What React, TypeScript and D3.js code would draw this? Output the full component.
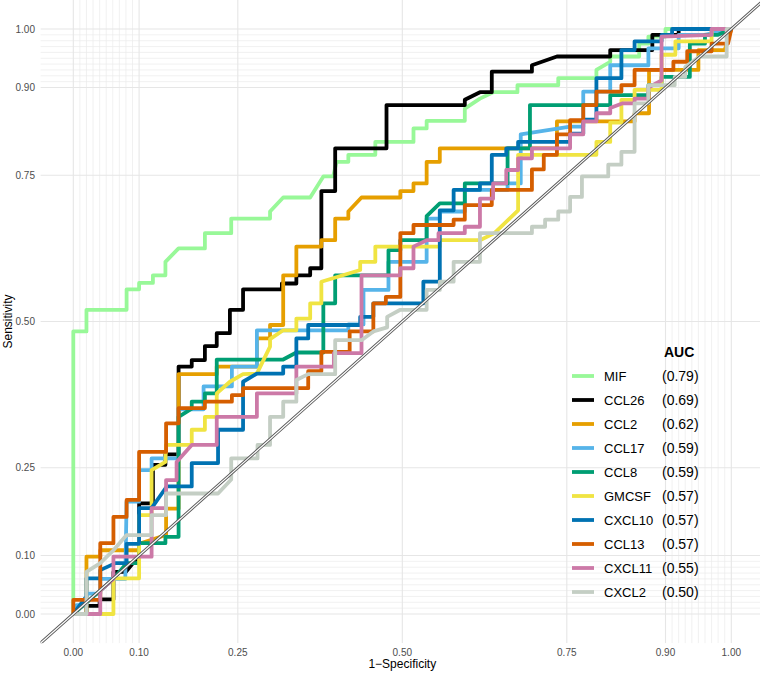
import React from "react";
import * as d3 from "d3";

type Pt = [number, number];

const markers = ["MIF", "CCL26", "CCL2", "CCL17", "CCL8", "GMCSF", "CXCL10", "CCL13", "CXCL11", "CXCL2"];
const aucLabels = ["(0.79)", "(0.69)", "(0.62)", "(0.59)", "(0.59)", "(0.57)", "(0.57)", "(0.57)", "(0.55)", "(0.50)"];
const colors = ["#98F898", "#000000", "#E69F00", "#56B4E9", "#009E73", "#F0E442", "#0072B2", "#D55E00", "#CC79A7", "#C4CEC4"];

const MIF: Pt[] = [[0,0],[0,0.483],[0.02,0.483],[0.02,0.52],[0.081,0.52],[0.081,0.555],[0.1,0.555],[0.1,0.566],[0.121,0.566],[0.121,0.579],[0.14,0.579],[0.14,0.602],[0.16,0.625],[0.2,0.625],[0.2,0.651],[0.24,0.651],[0.24,0.676],[0.299,0.676],[0.299,0.688],[0.319,0.712],[0.36,0.712],[0.38,0.748],[0.395,0.748],[0.4,0.773],[0.418,0.773],[0.418,0.785],[0.459,0.785],[0.459,0.807],[0.517,0.807],[0.517,0.83],[0.537,0.83],[0.537,0.843],[0.595,0.843],[0.595,0.864],[0.618,0.881],[0.638,0.892],[0.675,0.892],[0.675,0.904],[0.737,0.904],[0.737,0.916],[0.795,0.916],[0.795,0.93],[0.816,0.944],[0.816,0.953],[0.86,0.953],[0.86,0.975],[0.874,0.975],[0.874,0.987],[0.9,0.987],[0.9,1],[1,1]];
const CCL26: Pt[] = [[0,0],[0.02,0],[0.02,0.014],[0.04,0.014],[0.04,0.025],[0.061,0.025],[0.061,0.072],[0.08,0.072],[0.1,0.1],[0.1,0.189],[0.121,0.189],[0.121,0.255],[0.14,0.255],[0.14,0.273],[0.16,0.273],[0.16,0.423],[0.18,0.423],[0.18,0.434],[0.2,0.434],[0.2,0.458],[0.218,0.458],[0.218,0.48],[0.238,0.48],[0.238,0.52],[0.258,0.52],[0.258,0.555],[0.317,0.555],[0.317,0.565],[0.339,0.565],[0.339,0.579],[0.36,0.579],[0.36,0.591],[0.377,0.591],[0.377,0.723],[0.398,0.723],[0.398,0.796],[0.476,0.796],[0.476,0.87],[0.595,0.87],[0.595,0.879],[0.618,0.892],[0.636,0.892],[0.636,0.927],[0.697,0.927],[0.697,0.938],[0.735,0.953],[0.816,0.953],[0.816,0.964],[0.88,0.964],[0.88,0.99],[0.92,0.99],[0.92,1],[1,1]];
const CCL2: Pt[] = [[0,0],[0.02,0],[0.02,0.098],[0.041,0.098],[0.041,0.109],[0.1,0.109],[0.1,0.12],[0.141,0.135],[0.141,0.18],[0.16,0.18],[0.16,0.41],[0.218,0.41],[0.218,0.423],[0.279,0.423],[0.279,0.471],[0.299,0.471],[0.299,0.494],[0.319,0.494],[0.319,0.579],[0.339,0.579],[0.339,0.628],[0.377,0.628],[0.377,0.639],[0.398,0.639],[0.398,0.676],[0.418,0.676],[0.418,0.688],[0.438,0.712],[0.497,0.712],[0.497,0.723],[0.517,0.723],[0.517,0.736],[0.537,0.736],[0.537,0.773],[0.557,0.773],[0.557,0.796],[0.735,0.796],[0.735,0.842],[0.853,0.842],[0.853,0.856],[0.875,0.856],[0.875,0.93],[0.95,0.93],[0.95,0.964],[0.99,0.964],[1,1]];
const CCL17: Pt[] = [[0,0],[0.005,0.015],[0.02,0.015],[0.02,0.035],[0.041,0.035],[0.041,0.06],[0.079,0.06],[0.081,0.192],[0.1,0.192],[0.1,0.246],[0.119,0.246],[0.119,0.266],[0.16,0.266],[0.16,0.35],[0.198,0.35],[0.198,0.389],[0.241,0.389],[0.241,0.423],[0.279,0.423],[0.279,0.485],[0.418,0.485],[0.418,0.495],[0.441,0.495],[0.441,0.554],[0.479,0.554],[0.479,0.602],[0.537,0.602],[0.537,0.676],[0.557,0.676],[0.557,0.688],[0.595,0.688],[0.595,0.725],[0.66,0.725],[0.66,0.736],[0.68,0.736],[0.68,0.82],[0.755,0.833],[0.775,0.833],[0.775,0.893],[0.816,0.893],[0.816,0.938],[0.874,0.938],[0.874,0.967],[0.92,0.967],[0.92,0.99],[0.96,0.99],[1,1]];
const CCL8: Pt[] = [[0,0],[0.041,0.04],[0.061,0.06],[0.081,0.087],[0.1,0.087],[0.1,0.121],[0.14,0.121],[0.14,0.132],[0.16,0.132],[0.16,0.337],[0.18,0.351],[0.18,0.363],[0.2,0.363],[0.2,0.377],[0.218,0.377],[0.218,0.435],[0.319,0.435],[0.339,0.447],[0.38,0.447],[0.38,0.531],[0.398,0.531],[0.398,0.579],[0.479,0.579],[0.479,0.622],[0.497,0.622],[0.497,0.639],[0.537,0.639],[0.537,0.68],[0.557,0.702],[0.595,0.702],[0.595,0.736],[0.66,0.736],[0.66,0.796],[0.694,0.796],[0.694,0.87],[0.816,0.87],[0.816,0.887],[0.874,0.887],[0.874,0.904],[0.894,0.904],[0.894,0.918],[0.937,0.918],[0.937,0.975],[0.96,0.975],[0.96,0.99],[0.98,0.99],[1,1]];
const GMCSF: Pt[] = [[0,0],[0.061,0],[0.061,0.061],[0.1,0.061],[0.1,0.169],[0.119,0.169],[0.119,0.246],[0.14,0.26],[0.141,0.289],[0.18,0.289],[0.18,0.315],[0.2,0.315],[0.2,0.337],[0.218,0.337],[0.218,0.377],[0.238,0.397],[0.258,0.41],[0.279,0.411],[0.299,0.457],[0.299,0.47],[0.319,0.485],[0.339,0.485],[0.339,0.505],[0.36,0.505],[0.36,0.531],[0.377,0.531],[0.377,0.568],[0.436,0.588],[0.436,0.602],[0.459,0.602],[0.459,0.628],[0.557,0.628],[0.557,0.639],[0.618,0.639],[0.64,0.651],[0.676,0.69],[0.676,0.785],[0.795,0.785],[0.795,0.807],[0.816,0.807],[0.816,0.84],[0.833,0.84],[0.833,0.879],[0.853,0.879],[0.853,0.896],[0.894,0.896],[0.894,0.956],[0.915,0.956],[0.915,0.979],[0.97,0.979],[0.97,1],[1,1]];
const CXCL10: Pt[] = [[0,0],[0.02,0.03],[0.02,0.061],[0.041,0.061],[0.041,0.075],[0.064,0.087],[0.081,0.087],[0.081,0.12],[0.1,0.12],[0.1,0.181],[0.119,0.181],[0.142,0.218],[0.18,0.218],[0.18,0.258],[0.22,0.258],[0.22,0.315],[0.258,0.315],[0.258,0.397],[0.279,0.411],[0.319,0.411],[0.319,0.423],[0.339,0.423],[0.339,0.471],[0.357,0.471],[0.357,0.494],[0.436,0.494],[0.436,0.508],[0.456,0.508],[0.456,0.531],[0.532,0.531],[0.532,0.568],[0.557,0.568],[0.557,0.69],[0.578,0.69],[0.578,0.725],[0.618,0.725],[0.618,0.736],[0.636,0.736],[0.636,0.785],[0.658,0.785],[0.658,0.796],[0.676,0.796],[0.676,0.807],[0.755,0.807],[0.755,0.821],[0.775,0.821],[0.775,0.845],[0.795,0.845],[0.795,0.916],[0.833,0.916],[0.833,0.964],[0.853,0.964],[0.853,0.979],[0.894,0.979],[0.894,0.99],[0.91,0.99],[0.91,1],[1,1]];
const CCL13: Pt[] = [[0,0],[0,0.024],[0.041,0.024],[0.041,0.121],[0.061,0.121],[0.061,0.166],[0.081,0.166],[0.081,0.195],[0.1,0.195],[0.1,0.277],[0.141,0.277],[0.141,0.326],[0.16,0.326],[0.16,0.352],[0.2,0.352],[0.2,0.363],[0.241,0.363],[0.241,0.374],[0.258,0.374],[0.258,0.386],[0.357,0.386],[0.357,0.415],[0.377,0.415],[0.377,0.448],[0.42,0.448],[0.42,0.483],[0.456,0.483],[0.456,0.531],[0.475,0.531],[0.475,0.542],[0.497,0.542],[0.497,0.651],[0.517,0.651],[0.517,0.665],[0.578,0.665],[0.578,0.674],[0.595,0.674],[0.595,0.699],[0.636,0.699],[0.636,0.725],[0.697,0.725],[0.697,0.76],[0.715,0.76],[0.715,0.785],[0.735,0.785],[0.735,0.82],[0.755,0.82],[0.755,0.844],[0.775,0.844],[0.775,0.87],[0.795,0.87],[0.795,0.893],[0.833,0.893],[0.833,0.904],[0.853,0.904],[0.853,0.93],[0.912,0.93],[0.912,0.944],[0.933,0.944],[0.933,0.962],[0.97,0.962],[0.97,0.975],[0.995,0.975],[1,1]];
const CXCL11: Pt[] = [[0,0],[0.041,0],[0.041,0.04],[0.061,0.06],[0.061,0.098],[0.119,0.098],[0.119,0.181],[0.141,0.181],[0.141,0.229],[0.157,0.229],[0.157,0.26],[0.18,0.289],[0.218,0.289],[0.218,0.337],[0.279,0.337],[0.279,0.377],[0.339,0.377],[0.339,0.423],[0.396,0.423],[0.396,0.446],[0.438,0.446],[0.438,0.579],[0.497,0.579],[0.497,0.591],[0.517,0.591],[0.517,0.628],[0.537,0.639],[0.555,0.639],[0.555,0.651],[0.595,0.651],[0.595,0.662],[0.618,0.662],[0.618,0.71],[0.638,0.71],[0.638,0.736],[0.658,0.736],[0.658,0.759],[0.676,0.759],[0.676,0.779],[0.697,0.779],[0.697,0.796],[0.755,0.796],[0.755,0.82],[0.775,0.82],[0.775,0.842],[0.795,0.842],[0.795,0.856],[0.816,0.856],[0.816,0.865],[0.835,0.873],[0.853,0.873],[0.853,0.881],[0.874,0.881],[0.874,0.9],[0.894,0.912],[0.894,0.987],[0.97,0.99],[0.97,1],[1,1]];
const CXCL2: Pt[] = [[0,0],[0.02,0],[0.02,0.072],[0.041,0.087],[0.061,0.109],[0.081,0.135],[0.119,0.135],[0.119,0.169],[0.141,0.169],[0.141,0.206],[0.22,0.206],[0.24,0.23],[0.24,0.266],[0.28,0.266],[0.28,0.289],[0.299,0.289],[0.299,0.337],[0.319,0.337],[0.319,0.363],[0.339,0.363],[0.339,0.4],[0.357,0.41],[0.398,0.41],[0.398,0.468],[0.438,0.468],[0.456,0.483],[0.477,0.49],[0.477,0.508],[0.497,0.52],[0.537,0.52],[0.537,0.554],[0.557,0.554],[0.557,0.568],[0.578,0.568],[0.578,0.602],[0.618,0.602],[0.618,0.651],[0.697,0.651],[0.697,0.662],[0.717,0.662],[0.717,0.674],[0.737,0.674],[0.737,0.688],[0.755,0.688],[0.755,0.713],[0.773,0.713],[0.773,0.748],[0.813,0.748],[0.813,0.768],[0.833,0.768],[0.833,0.79],[0.853,0.79],[0.853,0.873],[0.874,0.873],[0.874,0.904],[0.914,0.904],[0.914,0.918],[0.93,0.918],[0.93,0.935],[0.952,0.953],[0.993,0.953],[0.993,1],[1,1]];

const curves: Pt[][] = [MIF, CCL26, CCL2, CCL17, CCL8, GMCSF, CXCL10, CCL13, CXCL11, CXCL2];

const majorBreaks = [0, 0.1, 0.25, 0.5, 0.75, 0.9, 1];
const tickLabels = ["0.00", "0.10", "0.25", "0.50", "0.75", "0.90", "1.00"];
const minorBreaks = [0.01,0.02,0.03,0.04,0.05,0.06,0.07,0.08,0.09,0.91,0.92,0.93,0.94,0.95,0.96,0.97,0.98,0.99];

const W = 760, H = 673;
const FONT = "'Liberation Sans', Arial, Helvetica, sans-serif";

export default function App() {
  const x = d3.scaleLinear().domain([0, 1]).range([73.3, 731.3]);
  const y = d3.scaleLinear().domain([0, 1]).range([614, 29]);
  const px0 = x(-0.05), px1 = x(1.05), py0 = y(-0.05), py1 = y(1.05);
  const line = d3.line<Pt>().x(d => x(d[0])).y(d => y(d[1]));

  const legendX = 572, legendY0 = 376, legendStep = 24;

  return (
    <svg width={W} height={H} style={{ position: "absolute", left: 0, top: 0, background: "#fff" }} fontFamily={FONT}>
      <defs>
        <clipPath id="panel">
          <rect x={px0} y={Math.max(0, py1)} width={Math.min(W, px1) - px0} height={py0 - Math.max(0, py1)} />
        </clipPath>
      </defs>
      <g clipPath="url(#panel)">
        {minorBreaks.map((b, i) => (
          <g key={"mn" + i}>
            <line x1={x(b)} x2={x(b)} y1={py0} y2={py1} stroke="#EBEBEB" strokeWidth={0.7} />
            <line x1={px0} x2={px1} y1={y(b)} y2={y(b)} stroke="#EBEBEB" strokeWidth={0.7} />
          </g>
        ))}
        {majorBreaks.map((b, i) => (
          <g key={"mj" + i}>
            <line x1={x(b)} x2={x(b)} y1={py0} y2={py1} stroke="#E6E6E6" strokeWidth={1.1} />
            <line x1={px0} x2={px1} y1={y(b)} y2={y(b)} stroke="#E6E6E6" strokeWidth={1.1} />
          </g>
        ))}
        {curves.map((c, i) => (
          <path key={markers[i]} d={line(c) || ""} fill="none" stroke={colors[i]} strokeWidth={3.8} strokeLinejoin="round" strokeLinecap="butt" />
        ))}
        <line x1={px0} y1={py0} x2={px1} y2={py1} stroke="#555" strokeWidth={3} />
        <line x1={px0} y1={py0} x2={px1} y2={py1} stroke="#fff" strokeWidth={1.2} />
      </g>
      {majorBreaks.map((b, i) => (
        <text key={"xt" + i} x={x(b)} y={656} textAnchor="middle" fontSize={10} fill="#4D4D4D">{tickLabels[i]}</text>
      ))}
      {majorBreaks.map((b, i) => (
        <text key={"yt" + i} x={35} y={y(b) + 3.5} textAnchor="end" fontSize={10} fill="#4D4D4D">{tickLabels[i]}</text>
      ))}
      <text x={x(0.5)} y={668} textAnchor="middle" fontSize={12} fill="#000">1−Specificity</text>
      <text transform={`translate(12,${y(0.5)}) rotate(-90)`} textAnchor="middle" fontSize={12} fill="#000">Sensitivity</text>
      <text x={664} y={357} fontSize={14} fontWeight="bold" fill="#000">AUC</text>
      {markers.map((m, i) => {
        const cy = legendY0 + i * legendStep;
        return (
          <g key={"lg" + m}>
            <line x1={legendX} x2={legendX + 22} y1={cy} y2={cy} stroke={colors[i]} strokeWidth={3.8} />
            <text x={604} y={cy + 4.5} fontSize={13} fill="#000">{m}</text>
            <text x={662} y={cy + 5} fontSize={14} fill="#000">{aucLabels[i]}</text>
          </g>
        );
      })}
    </svg>
  );
}
